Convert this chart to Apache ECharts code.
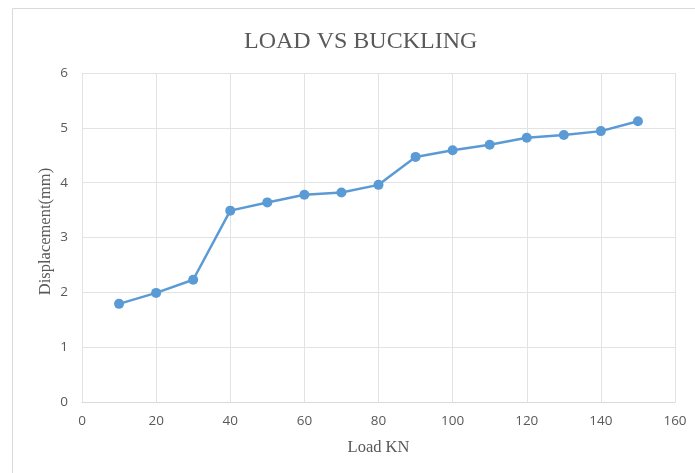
<!DOCTYPE html>
<html>
<head>
<meta charset="utf-8">
<script src="https://cdn.jsdelivr.net/npm/echarts@6/dist/echarts.min.js"></script>
<style>html,body{margin:0;padding:0;background:#fff;}#c{width:695px;height:473px;}</style>
</head>
<body>
<div id="c"></div>
<script>
const loads = [10, 20, 30, 40, 50, 60, 70, 80, 90, 100, 110, 120, 130, 140, 150];
const displacement = [1.79, 1.99, 2.23, 3.49, 3.64, 3.78, 3.82, 3.96, 4.47, 4.59, 4.69, 4.82, 4.87, 4.94, 5.12];
const titleText = 'LOAD VS BUCKLING';
const xName = 'Load KN';
const yName = 'Displacement(mm)';

const chart = echarts.init(document.getElementById('c'), null, {renderer: 'canvas'});
const serif = '"Liberation Serif", "DejaVu Serif", serif';
const sans = '"Open Sans", "Liberation Sans", sans-serif';
chart.setOption({
  animation: false,
  backgroundColor: '#fff',
  graphic: [{
    type: 'rect', left: 12, top: 8, z: -1,
    shape: {width: 720, height: 500},
    style: {fill: '#fff', stroke: '#d9d9d9', lineWidth: 1}
  }],
  title: {
    text: titleText, left: 239, top: 25,
    textStyle: {fontFamily: serif, fontSize: 24, fontWeight: 'normal', color: '#595959'}
  },
  grid: {left: 82, right: 20, top: 73, bottom: 71},
  xAxis: {
    type: 'value', min: 0, max: 160, interval: 20,
    name: xName, nameLocation: 'middle', nameGap: 37, nameMoveOverlap: false,
    nameTextStyle: {fontFamily: serif, fontSize: 16.5, color: '#595959'},
    axisLine: {show: true, lineStyle: {color: '#d9d9d9', width: 1}},
    axisTick: {show: false},
    axisLabel: {fontFamily: sans, fontSize: 13.5, color: '#595959', margin: 12},
    splitLine: {show: true, lineStyle: {color: '#e3e3e3', width: 1}}
  },
  yAxis: {
    type: 'value', min: 0, max: 6, interval: 1,
    name: yName, nameLocation: 'middle', nameGap: 28, nameRotate: 90, nameMoveOverlap: false,
    nameTextStyle: {fontFamily: serif, fontSize: 16.5, color: '#595959', padding: [0, 0, 0, 12]},
    axisLine: {show: false},
    axisTick: {show: false},
    axisLabel: {fontFamily: sans, fontSize: 13.5, color: '#595959', margin: 14},
    splitLine: {show: true, lineStyle: {color: '#e3e3e3', width: 1}}
  },
  series: [{
    type: 'line',
    data: loads.map((x, i) => [x, displacement[i]]),
    symbol: 'circle', symbolSize: 10,
    lineStyle: {color: '#5b9bd5', width: 2.5},
    itemStyle: {color: '#5b9bd5'}
  }]
});
</script>
</body>
</html>
